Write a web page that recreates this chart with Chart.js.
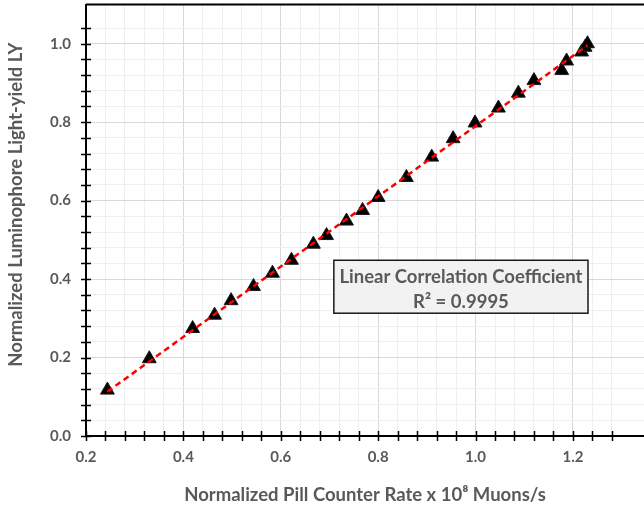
<!DOCTYPE html>
<html lang="en">
<head>
  <meta charset="UTF-8">
  <title>Light-yield vs Pill Counter Rate</title>
  <script src="https://cdn.jsdelivr.net/npm/chart.js"></script>
  <style>
    html, body { margin: 0; padding: 0; background: #fff; }
    #wrap { width: 644px; height: 508px; }
  </style>
</head>
<body>
  <div id="wrap"><canvas id="lyChart"></canvas></div>

  <script>
    // measured points (normalized pill counter rate, normalized LY)
    const rateX = [0.244, 0.330, 0.419, 0.464, 0.498, 0.544, 0.583, 0.622, 0.667, 0.694,
                   0.735, 0.768, 0.800, 0.858, 0.910, 0.954, 0.999, 1.047, 1.088, 1.120,
                   1.177, 1.187, 1.218, 1.225, 1.230];
    const lightY = [0.117, 0.197, 0.274, 0.308, 0.345, 0.381, 0.415, 0.448, 0.489, 0.511,
                    0.548, 0.575, 0.608, 0.659, 0.711, 0.758, 0.798, 0.836, 0.874, 0.906,
                    0.932, 0.956, 0.979, 0.991, 1.000];

    // linear trend line end points
    const trendX = [0.244, 1.230];
    const trendY = [0.113, 0.996];

    const boxLines = ['Linear Correlation Coefficient', 'R\u00b2 = 0.9995'];
    const yTitle = 'Normalized Luminophore Light-yield LY';

    const grey = '#595959';
    const isMajor = v => Math.abs(Math.round(v * 5) - v * 5) < 1e-6;

    // text box, y title, cross tick marks, top border
    const extras = {
      id: 'extras',
      afterDraw(chart) {
        const { ctx, chartArea: a, scales: { x, y } } = chart;
        ctx.save();
        ctx.strokeStyle = '#000';
        ctx.lineWidth = 1.5;
        ctx.beginPath();
        x.ticks.forEach(t => {
          if (t.value > 1.33) return;
          const px = Math.round(x.getPixelForValue(t.value)) + 0.5;
          ctx.moveTo(px, a.bottom - 5);
          ctx.lineTo(px, a.bottom + 5);
        });
        y.ticks.forEach(t => {
          if (t.value > 1.09) return;
          const py = Math.round(y.getPixelForValue(t.value)) + 0.5;
          ctx.moveTo(a.left - 5, py);
          ctx.lineTo(a.left + 5, py);
        });
        ctx.stroke();

        ctx.lineWidth = 2;
        ctx.beginPath();
        ctx.moveTo(a.left, a.top);
        ctx.lineTo(a.right, a.top);
        ctx.stroke();

        // annotation box
        const x0 = x.getPixelForValue(0.709), x1 = x.getPixelForValue(1.231);
        const y0 = y.getPixelForValue(0.448), y1 = y.getPixelForValue(0.313);
        ctx.fillStyle = '#f2f2f2';
        ctx.fillRect(x0, y0, x1 - x0, y1 - y0);
        ctx.strokeStyle = '#1a1a1a';
        ctx.lineWidth = 1.5;
        ctx.strokeRect(x0, y0, x1 - x0, y1 - y0);
        ctx.fillStyle = grey;
        ctx.font = 'bold 18.5px Lato';
        ctx.textAlign = 'center';
        ctx.textBaseline = 'middle';
        const cx = (x0 + x1) / 2;
        ctx.fillText(boxLines[0], cx, y0 + 17);
        ctx.fillText(boxLines[1], cx, y0 + 42);

        // y axis title, sits a bit above the plot centre like the original
        ctx.translate(16, y.getPixelForValue(0.590));
        ctx.rotate(-Math.PI / 2);
        ctx.fillText(yTitle, 0, 0);
        ctx.restore();
      }
    };

    new Chart(document.getElementById('lyChart'), {
      type: 'scatter',
      data: {
        datasets: [
          {
            label: 'Linear fit',
            type: 'line',
            data: trendX.map((v, i) => ({ x: v, y: trendY[i] })),
            borderColor: '#ff0000',
            borderWidth: 2.5,
            borderDash: [6, 4],
            pointRadius: 0,
            fill: false,
            order: 0
          },
          {
            label: 'LY',
            data: rateX.map((v, i) => ({ x: v, y: lightY[i] })),
            pointStyle: 'triangle',
            pointRadius: 8,
            backgroundColor: '#000',
            borderColor: '#1a1a1a',
            borderWidth: 1,
            order: 1
          }
        ]
      },
      options: {
        responsive: true,
        maintainAspectRatio: false,
        animation: false,
        layout: { autoPadding: false, padding: { top: 4.5, right: 0, left: 0, bottom: 0 } },
        plugins: { legend: { display: false }, tooltip: { enabled: false } },
        scales: {
          x: {
            type: 'linear',
            min: 0.2,
            max: 1.346,
            afterFit: s => { s.height = 72; s.paddingLeft = 0; s.paddingRight = 0; },
            border: { color: '#000', width: 2 },
            grid: {
              drawTicks: false,
              color: c => isMajor(c.tick.value) ? '#d9d9d9' : '#efefef'
            },
            ticks: {
              stepSize: 0.04,
              padding: 12,
              color: grey,
              font: { family: 'Lato', size: 15, weight: 'bold' },
              maxRotation: 0,
              autoSkip: false,
              callback: v => isMajor(v) && v < 1.3 ? v.toFixed(1) : ''
            },
            title: {
              display: true,
              text: 'Normalized Pill Counter Rate x 10\u2078 Muons/s',
              color: grey,
              font: { family: 'Lato', size: 18.5, weight: 'bold' },
              padding: { top: 0, bottom: 2 }
            }
          },
          y: {
            min: 0,
            max: 1.1,
            afterFit: s => { s.width = 86; s.paddingTop = 0; s.paddingBottom = 0; },
            border: { color: '#000', width: 2 },
            grid: {
              drawTicks: false,
              color: c => isMajor(c.tick.value) ? '#d9d9d9' : '#efefef'
            },
            ticks: {
              stepSize: 0.04,
              padding: 15,
              color: grey,
              font: { family: 'Lato', size: 15, weight: 'bold' },
              autoSkip: false,
              callback: v => isMajor(v) && v < 1.05 ? v.toFixed(1) : ''
            }
          }
        }
      },
      plugins: [extras]
    });
  </script>
</body>
</html>
